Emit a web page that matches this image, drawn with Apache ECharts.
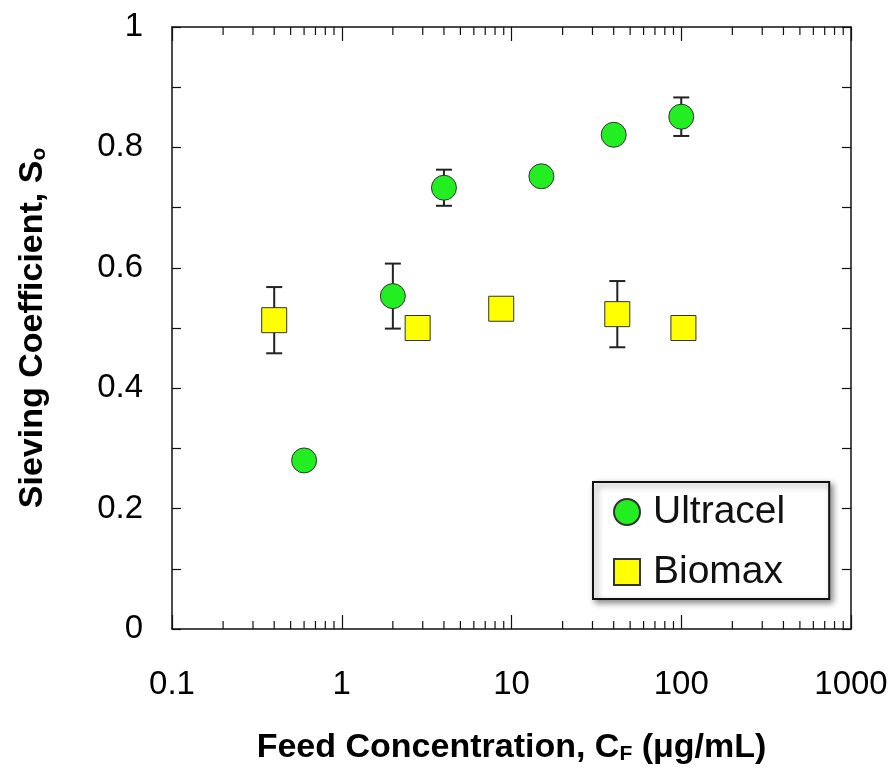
<!DOCTYPE html>
<html><head><meta charset="utf-8">
<script src="https://cdn.jsdelivr.net/npm/echarts@6/dist/echarts.min.js"></script>
<style>html,body{margin:0;padding:0;background:#fff}#c{width:895px;height:771px}</style>
</head><body><div id="c"></div>
<script>
// ---- data ----
const ultracelX   = [0.6, 2, 4, 15, 40, 100];
const ultracelY   = [0.28, 0.553, 0.733, 0.752, 0.821, 0.851];
const ultracelErr = [0, 0.054, 0.03, 0, 0, 0.032];
const biomaxX     = [0.4, 2.8, 8.7, 42, 103];
const biomaxY     = [0.513, 0.50, 0.532, 0.523, 0.50];
const biomaxErr   = [0.055, 0, 0, 0.055, 0];
const xTickLabels = [0.1, 1, 10, 100, 1000];
const yTickLabels = [0, 0.2, 0.4, 0.6, 0.8, 1];
const seriesNames = ['Ultracel', 'Biomax'];

// minor log ticks (2..9 in each decade)
const xMinorTicks = [];
for (let d = 0; d < xTickLabels.length - 1; d++) {
  for (let m = 2; m <= 9; m++) xMinorTicks.push([+(xTickLabels[d] * m).toPrecision(3)]);
}

const FONT = 'Liberation Sans, Arial, Helvetica, sans-serif';
const AX = '#111';

const ultracelData = ultracelX.map((x, i) => [x, ultracelY[i]]);
const biomaxData = biomaxX.map((x, i) => [x, biomaxY[i]]);
const errData = ultracelX.map((x, i) => [x, ultracelY[i], ultracelErr[i]])
  .concat(biomaxX.map((x, i) => [x, biomaxY[i], biomaxErr[i]]))
  .filter(d => d[2] > 0);

function errRender(params, api) {
  const x = api.value(0), y = api.value(1), e = api.value(2);
  const top = api.coord([x, y + e]);
  const bot = api.coord([x, y - e]);
  const w = 8;
  const st = { stroke: '#222', lineWidth: 2 };
  return {
    type: 'group', children: [
      { type: 'line', shape: { x1: top[0], y1: top[1], x2: bot[0], y2: bot[1] }, style: st },
      { type: 'line', shape: { x1: top[0] - w, y1: top[1], x2: top[0] + w, y2: top[1] }, style: st },
      { type: 'line', shape: { x1: bot[0] - w, y1: bot[1], x2: bot[0] + w, y2: bot[1] }, style: st }
    ]
  };
}

function minorRender(params, api) {
  const x = api.value(0);
  const b = api.coord([x, 0]);
  const t = api.coord([x, 1]);
  const L = 8;
  const st = { stroke: AX, lineWidth: 1.2 };
  return {
    type: 'group', children: [
      { type: 'line', shape: { x1: b[0], y1: b[1], x2: b[0], y2: b[1] - L }, style: st },
      { type: 'line', shape: { x1: t[0], y1: t[1], x2: t[0], y2: t[1] + L }, style: st }
    ]
  };
}

const axisLine = { show: true, onZero: false, lineStyle: { color: AX, width: 1.5 } };
const titleRich = {
  t: { fontSize: 34, fontWeight: 'bold', fontFamily: FONT, color: '#000', lineHeight: 40, verticalAlign: 'bottom' },
  s: { fontSize: 21, fontWeight: 'bold', fontFamily: FONT, color: '#000', lineHeight: 20, verticalAlign: 'bottom' }
};

const option = {
  backgroundColor: '#fff',
  animation: false,
  grid: { left: 172, top: 27, width: 679, height: 602, containLabel: false },
  xAxis: [
    {
      type: 'log', logBase: 10, min: 0.1, max: 1000, position: 'bottom',
      axisLine: axisLine,
      axisTick: { show: true, inside: true, length: 14, lineStyle: { color: AX, width: 1.2 } },
      splitLine: { show: false },
      axisLabel: {
        show: true, fontSize: 33, color: '#000', fontFamily: FONT, margin: 39,
        formatter: v => String(+(+v).toPrecision(3))
      },
      name: '{t|Feed Concentration, C}{s|F}{t| (μg/mL)}',
      nameLocation: 'middle', nameGap: 96,
      nameTextStyle: { rich: titleRich }
    },
    {
      type: 'log', logBase: 10, min: 0.1, max: 1000, position: 'top',
      axisLine: axisLine,
      axisTick: { show: true, inside: true, length: 14, lineStyle: { color: AX, width: 1.2 } },
      splitLine: { show: false },
      axisLabel: { show: false }
    }
  ],
  yAxis: [
    {
      type: 'value', min: 0, max: 1, interval: 0.2, position: 'left',
      axisLine: axisLine,
      axisTick: { show: true, inside: true, length: 9, lineStyle: { color: AX, width: 1.2 } },
      minorTick: { show: true, splitNumber: 2, length: 9, lineStyle: { color: AX, width: 1.2 } },
      splitLine: { show: false },
      axisLabel: {
        fontSize: 33, color: '#000', fontFamily: FONT, margin: 29,
        formatter: v => String(+(+v).toFixed(1))
      },
      name: '{t|Sieving Coefficient, S}{s|o}',
      nameLocation: 'middle', nameGap: 122, nameRotate: 90,
      nameTextStyle: { rich: titleRich }
    },
    {
      type: 'value', min: 0, max: 1, interval: 0.2, position: 'right',
      axisLine: axisLine,
      axisTick: { show: true, inside: true, length: 9, lineStyle: { color: AX, width: 1.2 } },
      minorTick: { show: true, splitNumber: 2, length: 9, lineStyle: { color: AX, width: 1.2 } },
      splitLine: { show: false },
      axisLabel: { show: false }
    }
  ],
  legend: {
    orient: 'vertical', left: 593, top: 482,
    padding: [10, 44, 7, 20],
    itemWidth: 26, itemHeight: 26, itemGap: 20,
    backgroundColor: '#fff', borderColor: '#111', borderWidth: 2, borderRadius: 0,
    shadowBlur: 6, shadowColor: 'rgba(0,0,0,0.45)', shadowOffsetX: 3, shadowOffsetY: 3,
    textStyle: { fontSize: 39, fontFamily: FONT, color: '#111', lineHeight: 40, padding: [0, 0, 0, 8] },
    data: [{ name: seriesNames[0], icon: 'circle' }, { name: seriesNames[1], icon: 'rect' }]
  },
  series: [
    {
      type: 'custom', name: 'minorTicks', xAxisIndex: 0, yAxisIndex: 0, silent: true,
      renderItem: minorRender, data: xMinorTicks, clip: false, z: 1
    },
    {
      type: 'custom', name: 'errorBars', xAxisIndex: 0, yAxisIndex: 0, silent: true,
      renderItem: errRender, data: errData, clip: false, z: 2
    },
    {
      type: 'scatter', name: seriesNames[0], data: ultracelData, symbol: 'circle', symbolSize: 25,
      itemStyle: { color: '#22ee22', borderColor: '#333', borderWidth: 1, opacity: 1 }, z: 5
    },
    {
      type: 'scatter', name: seriesNames[1], data: biomaxData, symbol: 'rect', symbolSize: 25,
      itemStyle: { color: '#ffff00', borderColor: '#333', borderWidth: 1, opacity: 1 }, z: 5
    }
  ]
};

const chart = echarts.init(document.getElementById('c'), null, { renderer: 'canvas' });
chart.setOption(option);
</script>
</body></html>
